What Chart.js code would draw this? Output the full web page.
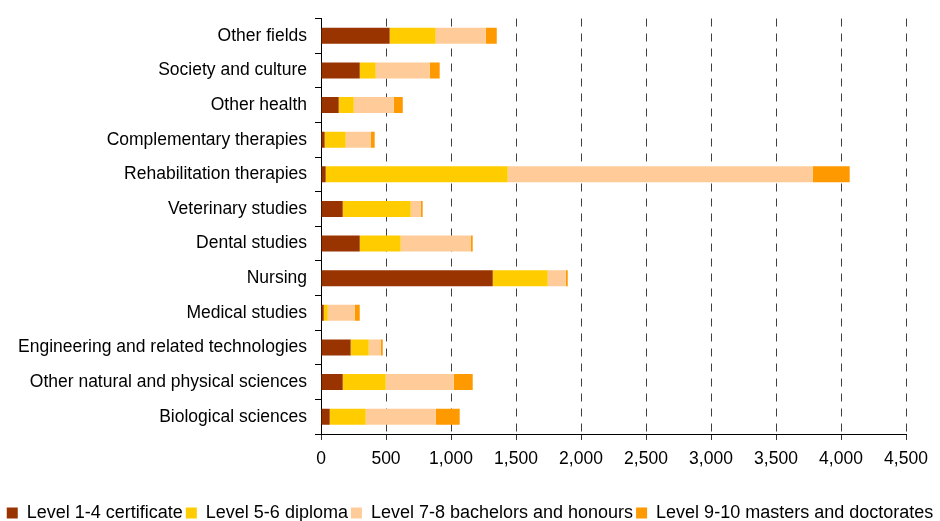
<!DOCTYPE html>
<html>
<head>
<meta charset="utf-8">
<script src="https://cdn.jsdelivr.net/npm/chart.js@4/dist/chart.umd.min.js"></script>
<style>
  html, body { margin: 0; padding: 0; background: #fff; }
  #wrap { width: 940px; height: 521px; }
</style>
</head>
<body>
<div id="wrap"><canvas id="qualChart"></canvas></div>
<script>
// Fields of study, top to bottom
const categories = [
    'Other fields',
    'Society and culture',
    'Other health',
    'Complementary therapies',
    'Rehabilitation therapies',
    'Veterinary studies',
    'Dental studies',
    'Nursing',
    'Medical studies',
    'Engineering and related technologies',
    'Other natural and physical sciences',
    'Biological sciences'
];

const seriesNames = [
    'Level 1-4 certificate',
    'Level 5-6 diploma',
    'Level 7-8 bachelors and honours',
    'Level 9-10 masters and doctorates'
];

const certificate = [528, 298, 136, 28, 36, 167, 298, 1321, 21, 228, 167, 67];
const diploma     = [354, 123, 116, 162, 1400, 523, 315, 423, 31, 139, 331, 277];
const bachelors   = [385, 415, 307, 192, 2346, 77, 539, 138, 207, 92, 523, 538];
const masters     = [85, 77, 70, 31, 285, 15, 15, 16, 39, 16, 146, 185];

const seriesColors = ['#993300', '#FFCC00', '#FFCC99', '#FF9900'];

const xMax = 4500;
const xStep = 500;

document.addEventListener("DOMContentLoaded", function() {
    const fontFamily = '"Liberation Sans", Arial, sans-serif';
    const values = [certificate, diploma, bachelors, masters];

    const ctx = document.getElementById('qualChart').getContext('2d');
    new Chart(ctx, {
        type: 'bar',
        data: {
            labels: categories,
            datasets: values.map((v, i) => ({
                label: seriesNames[i],
                data: v,
                backgroundColor: seriesColors[i],
                borderWidth: 0,
                barPercentage: 0.46,
                categoryPercentage: 1.0
            }))
        },
        options: {
            indexAxis: 'y',
            responsive: true,
            maintainAspectRatio: false,
            animation: false,
            layout: { padding: { top: 17, right: 0, left: 0, bottom: -11 } },
            plugins: {
                tooltip: { enabled: false },
                legend: {
                    position: 'bottom',
                    labels: {
                        boxWidth: 11,
                        boxHeight: 11,
                        padding: 3,
                        color: '#000',
                        font: { family: fontFamily, size: 18 }
                    }
                }
            },
            scales: {
                x: {
                    stacked: true,
                    min: 0,
                    max: xMax,
                    ticks: {
                        stepSize: xStep,
                        color: '#000',
                        padding: 9,
                        font: { family: fontFamily, size: 17.5 }
                    },
                    grid: {
                        color: c => c.tick && c.tick.value === 0 ? 'rgba(0,0,0,0)' : '#404040',
                        tickColor: '#333',
                        tickLength: 6,
                        lineWidth: 1
                    },
                    border: { display: true, color: '#000', dash: [8, 7] },
                    afterFit: scale => {
                        scale.height = 67;
                        scale.paddingRight = 34;
                    }
                },
                y: {
                    stacked: true,
                    ticks: {
                        color: '#000',
                        padding: 8,
                        font: { family: fontFamily, size: 17.5 }
                    },
                    grid: {
                        drawOnChartArea: false,
                        color: '#000',
                        tickLength: 6
                    },
                    border: { display: true, color: '#000' },
                    afterFit: scale => { scale.width = 321; }
                }
            }
        }
    });
});
</script>
</body>
</html>
